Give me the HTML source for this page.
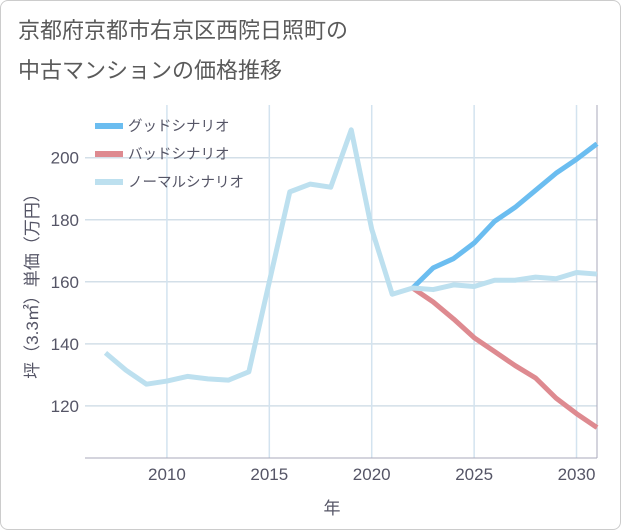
<!DOCTYPE html>
<html><head><meta charset="utf-8"><style>
body{margin:0;background:#fff;font-family:"Liberation Sans","Noto Sans CJK JP",sans-serif}
#wrap{position:relative;width:619px;height:528px;border:1px solid #ccc;border-radius:8px;overflow:hidden}
</style></head><body>
<div id="wrap">
<svg id="c" width="621" height="530" style="position:absolute;left:-1px;top:-1px"></svg>
</div>
<script>
const years=[2007,2008,2009,2010,2011,2012,2013,2014,2015,2016,2017,2018,2019,2020,2021,2022,2023,2024,2025,2026,2027,2028,2029,2030,2031];
const normal=[137.1,131.5,127,128,129.5,128.7,128.3,131,160,189,191.5,190.5,209,177,156,158,157.5,159,158.5,160.5,160.5,161.5,161,163,162.5];
const goodYears=[2022,2023,2024,2025,2026,2027,2028,2029,2030,2031];
const good=[158,164.5,167.5,172.5,179.5,184,189.5,195,199.5,204.5];
const bad=[158,153.5,148,142,137.5,133,129,122.5,117.5,113];
const xTicks=[2010,2015,2020,2025,2030];
const yTicks=[120,140,160,180,200];
const L=85,R=597,T=105,B=458,X0=2006,X1=2031,Y0=103.2,Y1=217;
const sx=v=>L+(v-X0)/(X1-X0)*(R-L), sy=v=>B-(v-Y0)/(Y1-Y0)*(B-T);
const svg=document.getElementById('c');const NS='http://www.w3.org/2000/svg';
function el(t,a,txt){const e=document.createElementNS(NS,t);for(const k in a)e.setAttribute(k,a[k]);if(txt!=null)e.textContent=txt;svg.appendChild(e);return e;}
let e;
e=el('text',{x:18,y:38,'font-size':22,fill:'#5a5a5a'},'京都府京都市右京区西院日照町の');


e=el('text',{x:18,y:78,'font-size':22,fill:'#5a5a5a'},'中古マンションの価格推移');


yTicks.forEach(v=>{
e=el('line',{x1:L,x2:R,y1:sy(v),y2:sy(v),stroke:'#d3dfe8','stroke-width':1.5});


e=el('text',{x:L-6,y:sy(v)+6,'font-size':17,fill:'#556','text-anchor':'end'},v);


});
xTicks.forEach(v=>{
e=el('line',{x1:sx(v),x2:sx(v),y1:T,y2:B,stroke:'#d3e3ef','stroke-width':1.5});


e=el('text',{x:sx(v),y:B+22,'font-size':17,fill:'#556','text-anchor':'middle'},v);


});
e=el('line',{x1:L,x2:R,y1:B,y2:B,stroke:'#aab','stroke-width':1});


e=el('line',{x1:R,x2:R,y1:T,y2:B,stroke:'#aab','stroke-width':1});


e=el('text',{x:332,y:514,'font-size':17,fill:'#556','text-anchor':'middle'},'年');


e=el('text',{x:0,y:0,'font-size':17,fill:'#556','text-anchor':'middle',transform:'translate(38,282) rotate(-90)'},'坪（3.3㎡）単価（万円）');


function line(xs,ys,col,name){
e=el('polyline',{points:xs.map((x,i)=>sx(x)+','+sy(ys[i])).join(' '),fill:'none',stroke:col,'stroke-width':5,'stroke-linejoin':'round'});


}
line(goodYears,bad,'#de8a90','bad-scenario-line');
line(goodYears,good,'#6bbdf0','good-scenario-line');
line(years,normal,'#bde0ef','normal-scenario-line');
const leg=[['グッドシナリオ','#6bbdf0'],['バッドシナリオ','#de8a90'],['ノーマルシナリオ','#bde0ef']];
leg.forEach((l,i)=>{const y=126+i*28;
e=el('line',{x1:95,x2:123,y1:y,y2:y,stroke:l[1],'stroke-width':6});


e=el('text',{x:128,y:y+5,'font-size':14.5,fill:'#556'},l[0]);


});
</script>
</body></html>
